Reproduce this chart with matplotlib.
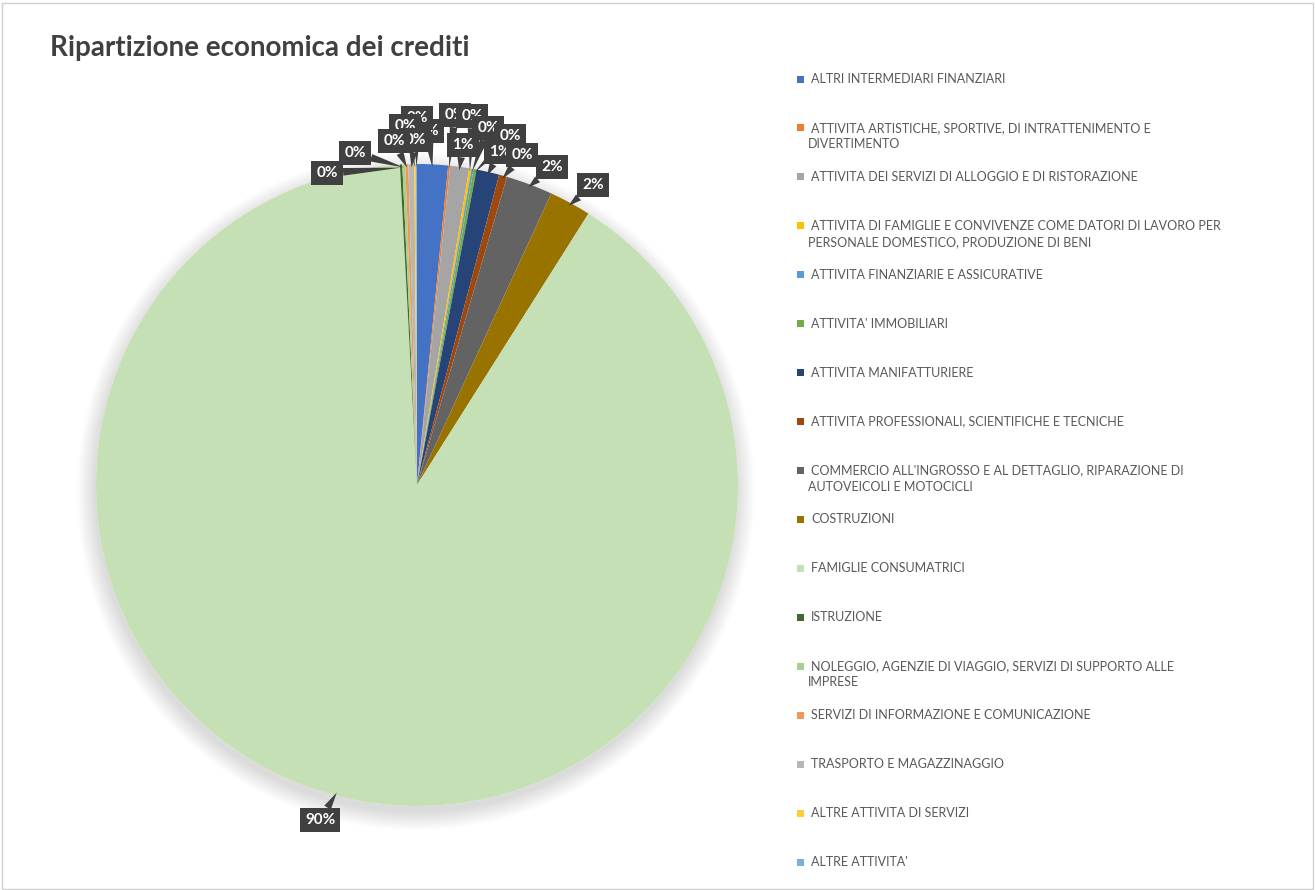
import numpy as np
import matplotlib
matplotlib.use("Agg")
import matplotlib.pyplot as plt
from matplotlib.patches import Rectangle, Circle

# ---------------- data ----------------
categories = [
    "ALTRI INTERMEDIARI FINANZIARI",
    "ATTIVITA ARTISTICHE, SPORTIVE, DI INTRATTENIMENTO E\nDIVERTIMENTO",
    "ATTIVITA DEI SERVIZI DI ALLOGGIO E DI RISTORAZIONE",
    "ATTIVITA DI FAMIGLIE E CONVIVENZE COME DATORI DI LAVORO PER\nPERSONALE DOMESTICO, PRODUZIONE DI BENI",
    "ATTIVITA FINANZIARIE E ASSICURATIVE",
    "ATTIVITA' IMMOBILIARI",
    "ATTIVITA MANIFATTURIERE",
    "ATTIVITA PROFESSIONALI, SCIENTIFICHE E TECNICHE",
    "COMMERCIO ALL'INGROSSO E AL DETTAGLIO, RIPARAZIONE DI\nAUTOVEICOLI E MOTOCICLI",
    "COSTRUZIONI",
    "FAMIGLIE CONSUMATRICI",
    "ISTRUZIONE",
    "NOLEGGIO, AGENZIE DI VIAGGIO, SERVIZI DI SUPPORTO ALLE\nIMPRESE",
    "SERVIZI DI INFORMAZIONE E COMUNICAZIONE",
    "TRASPORTO E MAGAZZINAGGIO",
    "ALTRE ATTIVITA DI SERVIZI",
    "ALTRE ATTIVITA'",
]
values = [1.55, 0.10, 0.95, 0.12, 0.10, 0.15, 1.15, 0.40, 2.35, 2.10,
          90.18, 0.12, 0.15, 0.15, 0.30, 0.08, 0.05]

colors = ["#4472C4", "#ED7D31", "#A5A5A5", "#FFC000", "#5B9BD5", "#70AD47",
          "#264478", "#9E480E", "#636363", "#997300", "#C5E0B4", "#43682B",
          "#A9D18E", "#F1975A", "#B7B7B7", "#FFCD33", "#7CAFDD"]

# label callout positions (pixels in the figure, from top-left)
label_px = [(428, 131), (455, 115), (463, 145), (472, 116), (488, 128),
            (510, 136), (500, 152), (522, 155), (552, 167), (593, 185),
            (320, 820), (327, 173), (355, 153), (394, 141), (415, 140),
            (405, 126), (417, 118)]
# drawing order of the callouts (later on top)
label_order = [0, 16, 15, 14, 13, 12, 11, 1, 3, 2, 4, 5, 6, 7, 8, 9, 10]

# ---------------- layout ----------------
W, H = 1315, 890
fig = plt.figure(figsize=(W / 100, H / 100), dpi=100)
fig.patch.set_facecolor("white")

cx, cy, R = 417, 485, 321          # pie centre / radius in pixels
L = 1.3
S = 2 * R * L
ax = fig.add_axes([(cx - S / 2) / W, ((H - cy) - S / 2) / H, S / W, S / H])

# soft shadow
for k in range(12):
    ax.add_patch(Circle((-0.004, -0.02), 1.0 + k * 0.005, facecolor="#000000",
                        alpha=0.012, edgecolor="none", zorder=0))
ax.add_patch(Circle((0, 0), 1.0, facecolor="white", edgecolor="none", zorder=0.5))

wedges, _ = ax.pie(values, colors=colors, startangle=90, counterclock=False,
                   radius=1.0, wedgeprops=dict(linewidth=0, edgecolor="none"))
for w in wedges:
    w.set_zorder(1)
ax.set_xlim(-L, L)
ax.set_ylim(-L, L)
ax.set_aspect("auto")
ax.axis("off")

total = sum(values)
cum = np.cumsum([0] + values[:-1])
for z, i in enumerate(label_order):
    pct = values[i] / total * 100
    mid = (cum[i] + values[i] / 2) / total * 2 * np.pi
    px, py = label_px[i]
    tx, ty = (px - cx) / R, (cy - py) / R
    ex, ey = 0.99 * np.sin(mid), 0.99 * np.cos(mid)
    ax.annotate(f"{pct:.0f}%", xy=(ex, ey), xytext=(tx, ty),
                ha="center", va="center", color="white", fontsize=11,
                fontweight="bold", family=["Lato", "DejaVu Sans"],
                bbox=dict(boxstyle="square,pad=0.35", fc="#404040", ec="none"),
                arrowprops=dict(arrowstyle="wedge,tail_width=0.5,shrink_factor=0.5",
                                fc="#404040", ec="none", shrinkA=0, shrinkB=0),
                zorder=5 + z, annotation_clip=False)

# title
fig.text(50 / W, 1 - 48 / H, "Ripartizione economica dei crediti", fontsize=20,
         fontweight="bold", color="#404040", family=["Lato", "DejaVu Sans"],
         ha="left", va="center")

# legend (drawn by hand to match the equal slots)
y0, dy = 79, 48.94
for i, (lab, col) in enumerate(zip(categories, colors)):
    y = y0 + i * dy
    fig.patches.append(Rectangle((797 / W, 1 - (y + 3.5) / H), 7 / W, 7 / H,
                                 transform=fig.transFigure, facecolor=col,
                                 edgecolor="none"))
    for j, line in enumerate(lab.split("\n")):
        fig.text((811 if j == 0 else 808) / W, 1 - (y + j * 16) / H, line,
                 fontsize=9, color="#595959", family=["Lato", "DejaVu Sans"],
                 ha="left", va="center")

# chart border
fig.patches.append(Rectangle((1.5 / W, 1.5 / H), (W - 4) / W, (H - 4) / H,
                             transform=fig.transFigure, facecolor="none",
                             edgecolor="#D0D0D0", linewidth=1))

fig.savefig("out.png", dpi=100, facecolor="white")
